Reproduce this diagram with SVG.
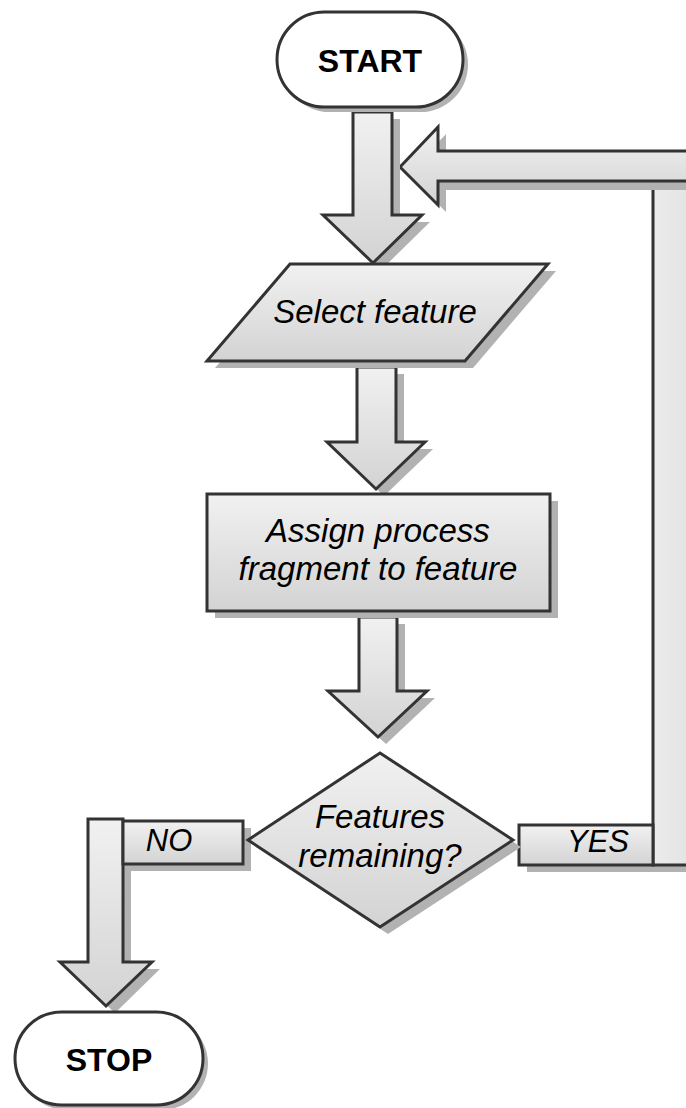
<svg xmlns="http://www.w3.org/2000/svg" width="686" height="1108" viewBox="0 0 686 1108">
<defs>
<linearGradient id="g" x1="0" y1="0" x2="0" y2="1">
<stop offset="0" stop-color="#f1f1f1"/>
<stop offset="1" stop-color="#d3d3d3"/>
</linearGradient>
<linearGradient id="gh" x1="0" y1="0" x2="1" y2="0">
<stop offset="0" stop-color="#ececec"/>
<stop offset="1" stop-color="#e0e0e0"/>
</linearGradient>
<style>
.sh{fill:#b2b2b2;stroke:none}
.f{fill:url(#g);stroke:#333;stroke-width:3;stroke-linejoin:miter}
.term{fill:#fff;stroke:#333;stroke-width:3}
.t{font-family:"Liberation Sans",Arial,sans-serif;font-size:33px;font-style:italic;fill:#000;text-anchor:middle}
.b{font-family:"Liberation Sans",Arial,sans-serif;font-size:32px;font-weight:bold;fill:#000;text-anchor:middle}
</style>
</defs>
<rect width="686" height="1108" fill="#fff"/>

<g id="connectors">
  <!-- feedback YES path -->
  <g id="yes-path">
    <rect class="sh" x="527" y="832" width="134" height="40"/>
    <rect class="sh" x="661" y="188" width="50" height="684"/>
    <rect x="653" y="181" width="50" height="684" fill="url(#gh)" stroke="#333" stroke-width="3"/>
    <rect class="f" x="519" y="825" width="134" height="40"/>
    <text class="t" x="598" y="852" style="font-size:31px">YES</text>
    <polygon class="sh" points="408,174 446,134 446,158 708,158 708,190 446,190 446,212"/>
    <polygon class="f" points="400,167 438,127 438,151 700,151 700,181 438,181 438,205"/>
  </g>
  <g id="a1">
    <polygon class="sh" points="361,119 400,119 400,222 430,222 381,270 331,222 361,222"/>
    <polygon class="f" points="353,112 392,112 392,215 422,215 373,263 323,215 353,215"/>
  </g>
  <g id="a2">
    <polygon class="sh" points="365,374 404,374 404,449 433,449 384,496 335,449 365,449"/>
    <polygon class="f" points="357,367 396,367 396,442 425,442 376,489 327,442 357,442"/>
  </g>
  <g id="a3">
    <polygon class="sh" points="367,624 405,624 405,698 435,698 386,744 336,698 367,698"/>
    <polygon class="f" points="359,617 397,617 397,691 427,691 378,737 328,691 359,691"/>
  </g>
  <g id="no-path">
    <rect class="sh" x="131" y="828" width="120" height="43"/>
    <polygon class="sh" points="96,826 131,826 131,969 160,969 115,1013 68,969 96,969"/>
    <polygon class="f" points="88,819 123,819 123,962 152,962 106,1006 60,962 88,962"/>
    <rect class="f" x="123" y="821" width="120" height="43"/>
    <text class="t" x="169" y="851" style="font-size:31px">NO</text>
  </g>
</g>

<g id="start">
  <rect class="sh" x="282" y="17" width="186" height="95" rx="47.5"/>
  <rect class="term" x="277" y="12" width="186" height="95" rx="47.5"/>
  <text class="b" x="370" y="72">START</text>
</g>

<g id="select">
  <polygon class="sh" points="298,271 556,271 473,368 215,368"/>
  <polygon class="f" points="290,264 548,264 465,361 207,361"/>
  <text class="t" x="375" y="323">Select feature</text>
</g>

<g id="assign">
  <rect class="sh" x="215" y="501" width="343" height="117"/>
  <rect class="f" x="207" y="494" width="343" height="117"/>
  <text class="t" x="378" y="542">Assign process</text>
  <text class="t" x="378" y="580">fragment to feature</text>
</g>

<g id="decision">
  <polygon class="sh" points="388,760 521,847 388,934 256,847"/>
  <polygon class="f" points="380,753 513,840 380,927 248,840"/>
  <text class="t" x="380" y="828">Features</text>
  <text class="t" x="380" y="867">remaining?</text>
</g>

<g id="stop">
  <rect class="sh" x="20" y="1017" width="188" height="93" rx="46.5"/>
  <rect class="term" x="15" y="1012" width="188" height="93" rx="46.5"/>
  <text class="b" x="109" y="1071">STOP</text>
</g>
</svg>
